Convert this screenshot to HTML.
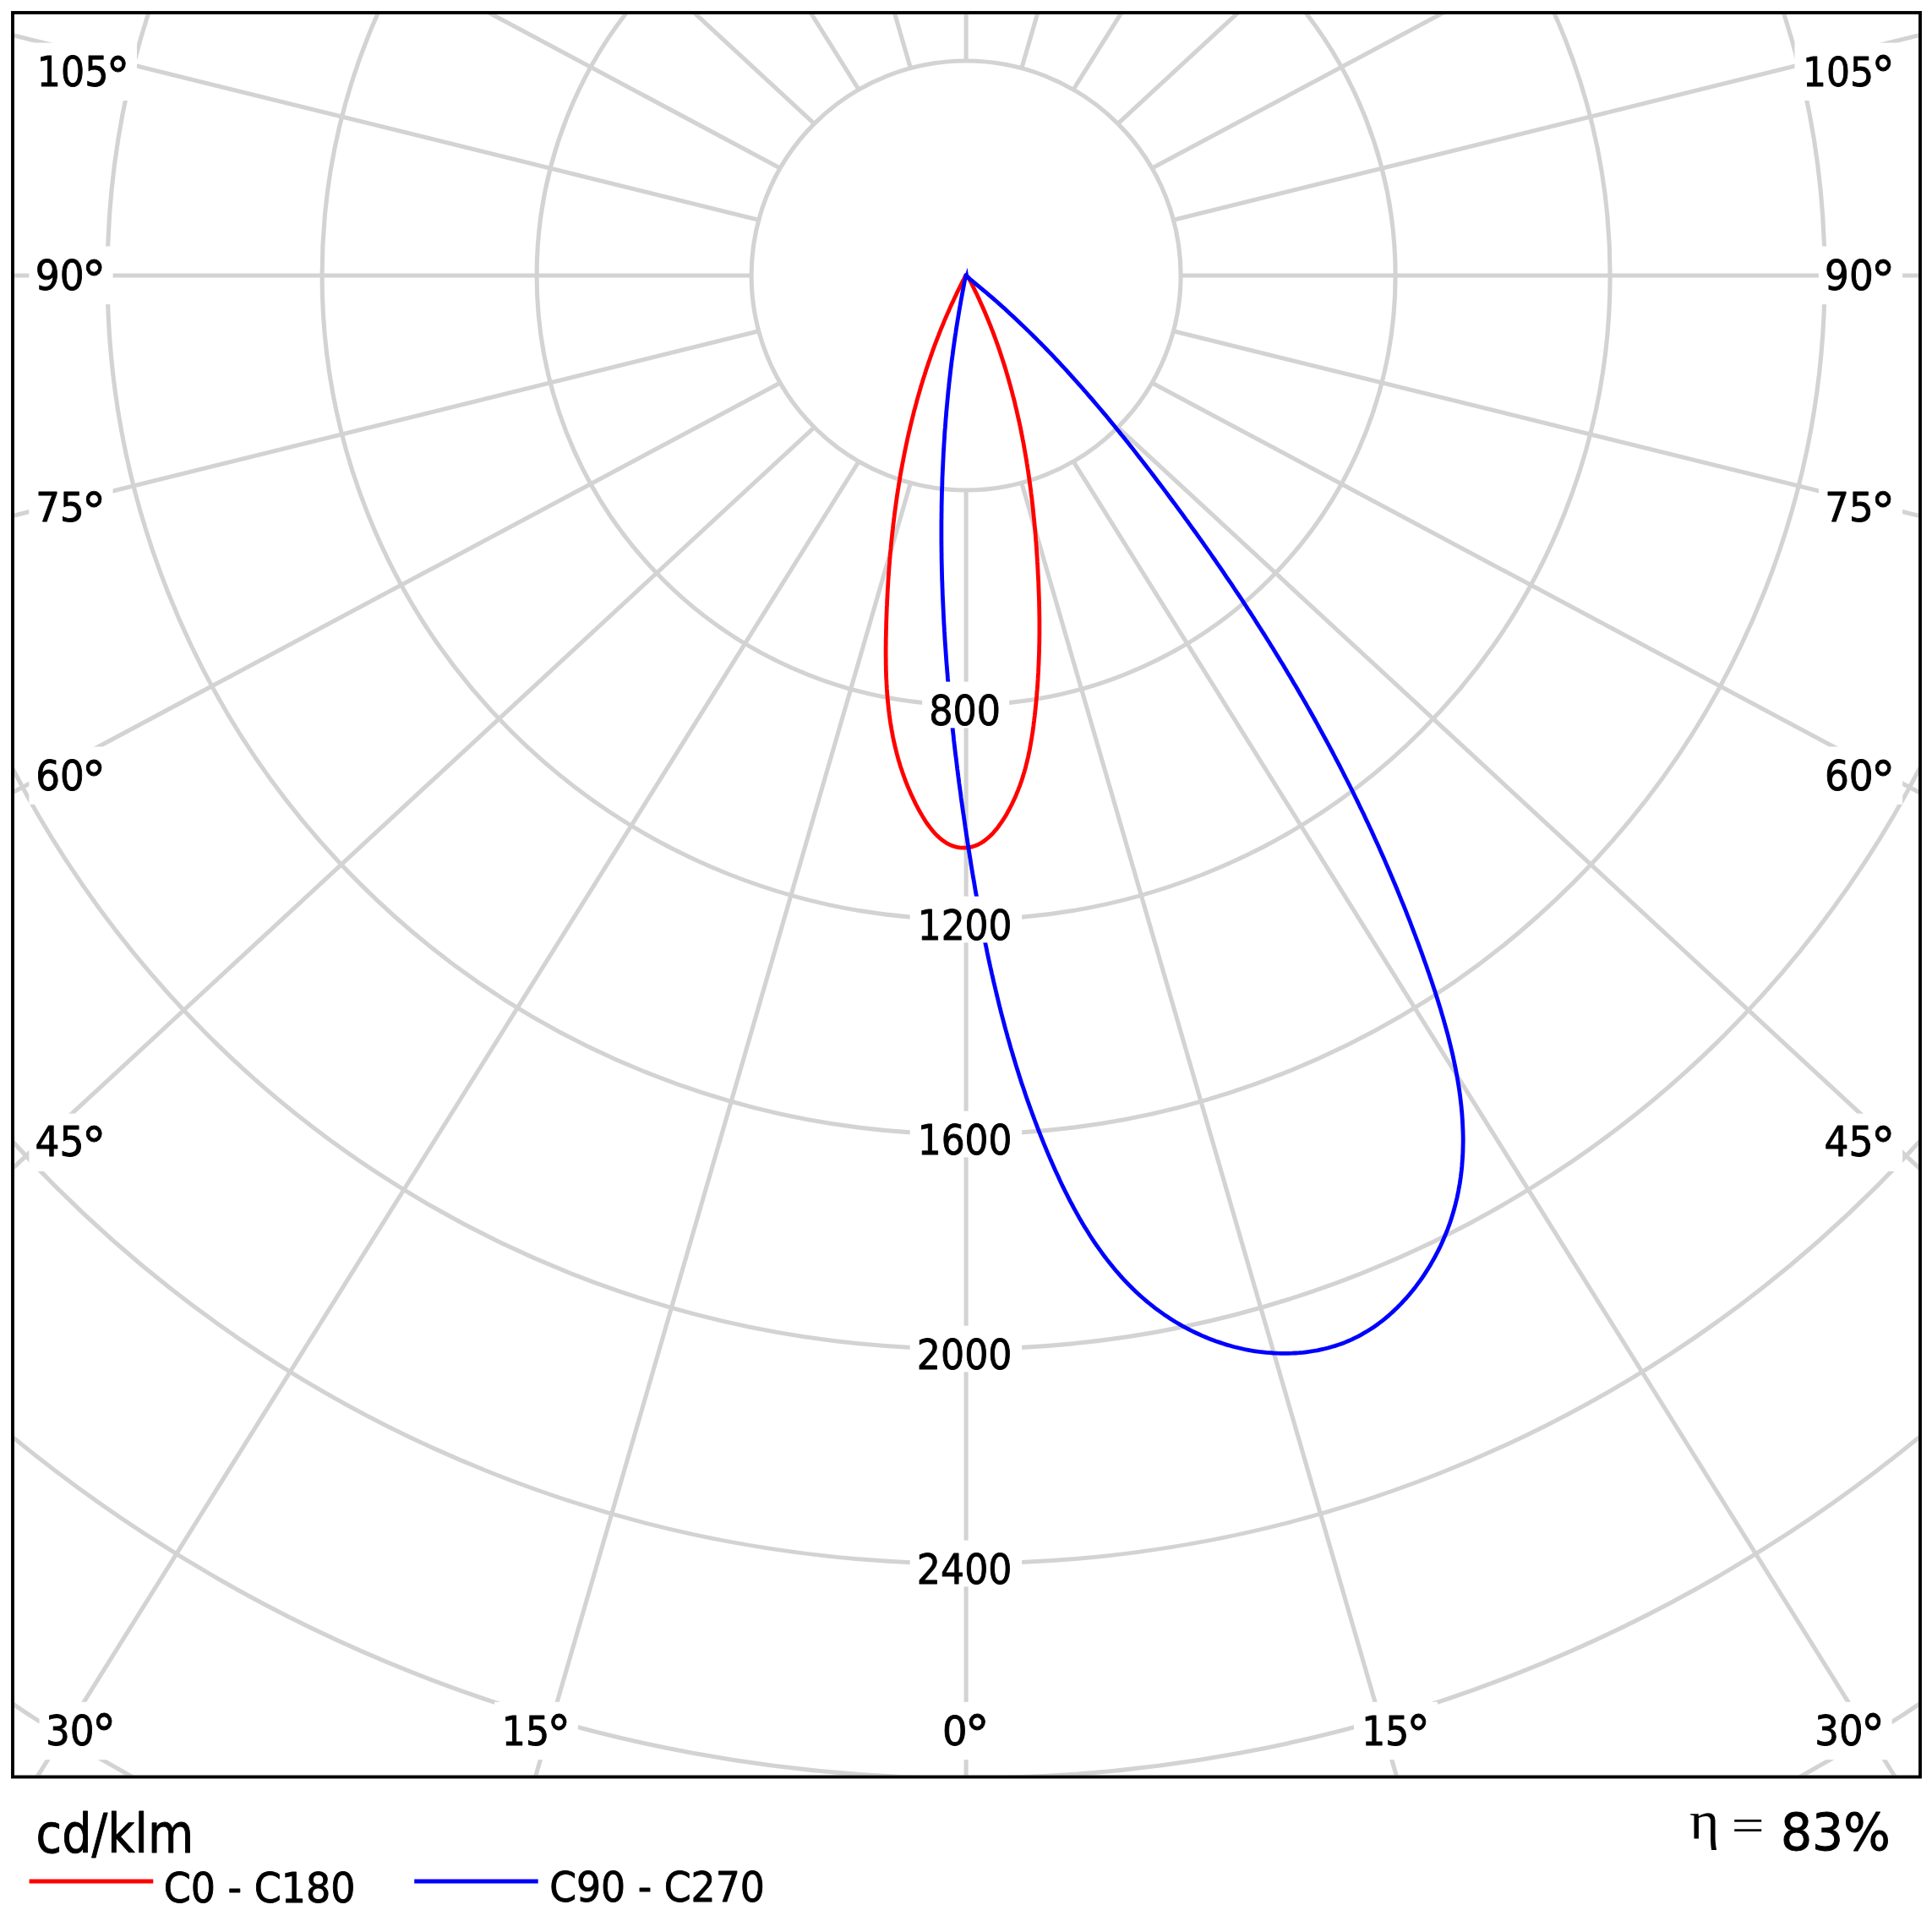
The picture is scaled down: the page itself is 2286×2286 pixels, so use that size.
<!DOCTYPE html>
<html><head><meta charset="utf-8"><title>Polar diagram</title>
<style>html,body{margin:0;padding:0;background:#fff}svg{display:block}</style></head>
<body>
<svg width="2286" height="2286" viewBox="0 0 2286 2286">
<defs><clipPath id="c"><rect x="17" y="17" width="2253" height="2083.5"/></clipPath></defs>
<rect width="100%" height="100%" fill="#fff"/>
<g clip-path="url(#c)" fill="none" stroke="#d3d3d3" stroke-width="5.1">
<circle cx="1143.1" cy="326.0" r="254.0"/>
<circle cx="1143.1" cy="326.0" r="508.0"/>
<circle cx="1143.1" cy="326.0" r="762.0"/>
<circle cx="1143.1" cy="326.0" r="1016.0"/>
<circle cx="1143.1" cy="326.0" r="1270.0"/>
<circle cx="1143.1" cy="326.0" r="1524.0"/>
<circle cx="1143.1" cy="326.0" r="1778.0"/>
<circle cx="1143.1" cy="326.0" r="2032.0"/>
<line x1="1143.1" y1="580.0" x2="1143.1" y2="2110.5"/>
<line x1="1208.8" y1="571.3" x2="1655.0" y2="2110.5"/>
<line x1="1270.1" y1="546.0" x2="2247.3" y2="2110.5"/>
<line x1="1322.7" y1="505.6" x2="2280.0" y2="1390.5"/>
<line x1="1363.1" y1="453.0" x2="2280.0" y2="942.4"/>
<line x1="1388.4" y1="391.7" x2="2280.0" y2="612.6"/>
<line x1="1397.1" y1="326.0" x2="2280.0" y2="326.0"/>
<line x1="1388.4" y1="260.3" x2="2280.0" y2="39.4"/>
<line x1="1363.1" y1="199.0" x2="1722.8" y2="7.0"/>
<line x1="1322.7" y1="146.4" x2="1473.5" y2="7.0"/>
<line x1="1270.1" y1="106.0" x2="1332.0" y2="7.0"/>
<line x1="1208.8" y1="80.7" x2="1230.2" y2="7.0"/>
<line x1="1143.1" y1="72.0" x2="1143.1" y2="7.0"/>
<line x1="1077.4" y1="80.7" x2="1056.0" y2="7.0"/>
<line x1="1016.1" y1="106.0" x2="954.2" y2="7.0"/>
<line x1="963.5" y1="146.4" x2="812.7" y2="7.0"/>
<line x1="923.1" y1="199.0" x2="563.4" y2="7.0"/>
<line x1="897.8" y1="260.3" x2="7.0" y2="39.6"/>
<line x1="889.1" y1="326.0" x2="7.0" y2="326.0"/>
<line x1="897.8" y1="391.7" x2="7.0" y2="612.4"/>
<line x1="923.1" y1="453.0" x2="7.0" y2="941.9"/>
<line x1="963.5" y1="505.6" x2="7.0" y2="1389.8"/>
<line x1="1016.1" y1="546.0" x2="38.9" y2="2110.5"/>
<line x1="1077.4" y1="571.3" x2="631.2" y2="2110.5"/>
</g>
<g fill="none" stroke-width="4.8" stroke-linejoin="round">
<path stroke="#ff0000" d="M1142.9,325.6 L1141.5,328.2 L1140.2,330.8 L1138.8,333.4 L1137.5,336.0 L1136.2,338.6 L1134.9,341.3 L1133.6,343.9 L1132.3,346.5 L1131.1,349.2 L1129.8,351.8 L1128.6,354.4 L1127.4,357.1 L1126.1,359.7 L1124.9,362.4 L1123.7,365.1 L1122.6,367.7 L1121.4,370.4 L1120.2,373.1 L1119.1,375.7 L1117.9,378.4 L1116.8,381.1 L1115.7,383.8 L1114.6,386.5 L1113.5,389.2 L1112.4,391.9 L1111.3,394.6 L1110.3,397.3 L1109.2,400.0 L1108.2,402.7 L1107.2,405.4 L1106.1,408.2 L1105.1,410.9 L1104.1,413.6 L1103.2,416.3 L1102.2,419.1 L1101.2,421.8 L1100.3,424.6 L1099.3,427.3 L1098.4,430.1 L1097.5,432.8 L1096.5,435.6 L1095.6,438.3 L1094.8,441.1 L1093.9,443.9 L1093.0,446.6 L1092.1,449.4 L1091.3,452.2 L1090.4,454.9 L1089.6,457.7 L1088.8,460.5 L1088.0,463.3 L1087.2,466.1 L1086.4,468.9 L1085.6,471.7 L1084.8,474.5 L1084.1,477.3 L1083.3,480.1 L1082.6,482.9 L1081.8,485.7 L1081.1,488.5 L1080.4,491.3 L1079.7,494.1 L1079.0,496.9 L1078.3,499.8 L1077.6,502.6 L1076.9,505.4 L1076.3,508.2 L1075.6,511.1 L1075.0,513.9 L1074.3,516.7 L1073.7,519.6 L1073.1,522.4 L1072.5,525.3 L1071.9,528.1 L1071.3,531.0 L1070.7,533.8 L1070.1,536.7 L1069.6,539.5 L1069.0,542.4 L1068.5,545.2 L1067.9,548.1 L1067.4,550.9 L1066.9,553.8 L1066.3,556.7 L1065.8,559.5 L1065.3,562.4 L1064.8,565.3 L1064.4,568.1 L1063.9,571.0 L1063.4,573.9 L1063.0,576.7 L1062.5,579.6 L1062.1,582.5 L1061.6,585.4 L1061.2,588.3 L1060.8,591.1 L1060.4,594.0 L1060.0,596.9 L1059.6,599.8 L1059.2,602.7 L1058.8,605.6 L1058.4,608.5 L1058.1,611.3 L1057.7,614.2 L1057.4,617.1 L1057.0,620.0 L1056.7,622.9 L1056.4,625.8 L1056.0,628.7 L1055.7,631.6 L1055.4,634.5 L1055.1,637.4 L1054.8,640.3 L1054.5,643.2 L1054.2,646.1 L1054.0,649.0 L1053.7,651.9 L1053.4,654.8 L1053.2,657.7 L1052.9,660.6 L1052.7,663.5 L1052.5,666.4 L1052.2,669.3 L1052.0,672.2 L1051.8,675.1 L1051.6,678.1 L1051.4,681.0 L1051.2,683.9 L1051.0,686.8 L1050.8,689.7 L1050.7,692.6 L1050.5,695.5 L1050.3,698.4 L1050.2,701.3 L1050.0,704.2 L1049.9,707.1 L1049.7,710.0 L1049.6,713.0 L1049.5,715.9 L1049.3,718.8 L1049.2,721.7 L1049.1,724.6 L1049.0,727.5 L1048.9,730.4 L1048.8,733.3 L1048.7,736.2 L1048.6,739.1 L1048.6,742.0 L1048.5,744.9 L1048.4,747.8 L1048.4,750.7 L1048.3,753.7 L1048.2,756.6 L1048.2,759.5 L1048.2,762.4 L1048.1,765.3 L1048.1,768.2 L1048.1,771.1 L1048.1,774.0 L1048.1,776.9 L1048.2,779.8 L1048.2,782.7 L1048.2,785.5 L1048.3,788.4 L1048.3,791.3 L1048.4,794.2 L1048.5,797.1 L1048.6,800.0 L1048.7,802.9 L1048.9,805.8 L1049.0,808.7 L1049.2,811.6 L1049.3,814.4 L1049.5,817.3 L1049.7,820.2 L1049.9,823.1 L1050.2,826.0 L1050.4,828.8 L1050.7,831.7 L1051.0,834.6 L1051.3,837.4 L1051.6,840.3 L1052.0,843.2 L1052.3,846.0 L1052.7,848.9 L1053.1,851.8 L1053.5,854.6 L1054.0,857.5 L1054.5,860.3 L1054.9,863.2 L1055.5,866.0 L1056.0,868.9 L1056.5,871.7 L1057.1,874.6 L1057.7,877.4 L1058.4,880.2 L1059.0,883.1 L1059.7,885.9 L1060.4,888.7 L1061.1,891.6 L1061.9,894.4 L1062.6,897.2 L1063.4,900.0 L1064.3,902.8 L1065.1,905.7 L1066.0,908.5 L1067.0,911.3 L1067.9,914.1 L1068.9,916.9 L1069.9,919.7 L1070.9,922.5 L1072.0,925.3 L1073.1,928.1 L1074.2,930.8 L1075.4,933.6 L1076.6,936.4 L1077.8,939.2 L1079.1,942.0 L1080.4,944.7 L1081.7,947.5 L1083.0,950.3 L1084.4,953.0 L1085.9,955.8 L1087.3,958.5 L1088.8,961.2 L1090.4,963.9 L1092.0,966.6 L1093.6,969.2 L1095.2,971.8 L1096.9,974.3 L1098.7,976.7 L1100.5,979.1 L1102.3,981.4 L1104.1,983.7 L1106.0,985.8 L1108.0,987.9 L1110.0,989.8 L1112.0,991.7 L1114.1,993.4 L1116.3,995.0 L1118.5,996.5 L1120.7,997.9 L1123.0,999.1 L1125.3,1000.2 L1127.7,1001.1 L1130.2,1001.8 L1132.6,1002.4 L1135.2,1002.9 L1137.8,1003.1 L1140.3,1003.2 L1143.0,1003.1 L1145.5,1002.9 L1148.1,1002.4 L1150.7,1001.8 L1153.2,1001.0 L1155.6,1000.1 L1158.0,999.0 L1160.4,997.7 L1162.7,996.3 L1164.9,994.7 L1167.1,993.0 L1169.3,991.2 L1171.4,989.3 L1173.5,987.3 L1175.5,985.1 L1177.4,982.9 L1179.4,980.6 L1181.2,978.2 L1183.0,975.7 L1184.8,973.2 L1186.5,970.6 L1188.2,968.0 L1189.8,965.4 L1191.4,962.7 L1192.9,959.9 L1194.4,957.2 L1195.8,954.5 L1197.2,951.7 L1198.5,949.0 L1199.8,946.2 L1201.1,943.5 L1202.3,940.7 L1203.4,937.9 L1204.6,935.1 L1205.6,932.3 L1206.7,929.6 L1207.7,926.8 L1208.7,924.0 L1209.6,921.2 L1210.5,918.3 L1211.3,915.5 L1212.2,912.7 L1213.0,909.9 L1213.7,907.1 L1214.4,904.2 L1215.2,901.4 L1215.8,898.6 L1216.5,895.7 L1217.1,892.9 L1217.7,890.0 L1218.3,887.2 L1218.8,884.3 L1219.3,881.5 L1219.8,878.6 L1220.3,875.7 L1220.8,872.9 L1221.2,870.0 L1221.7,867.2 L1222.1,864.3 L1222.5,861.4 L1222.9,858.5 L1223.2,855.7 L1223.6,852.8 L1223.9,849.9 L1224.3,847.1 L1224.6,844.2 L1224.9,841.3 L1225.2,838.4 L1225.5,835.6 L1225.8,832.7 L1226.1,829.8 L1226.3,826.9 L1226.6,824.0 L1226.8,821.2 L1227.0,818.3 L1227.3,815.4 L1227.5,812.5 L1227.7,809.6 L1227.9,806.7 L1228.1,803.9 L1228.2,801.0 L1228.4,798.1 L1228.6,795.2 L1228.7,792.3 L1228.8,789.4 L1229.0,786.5 L1229.1,783.7 L1229.2,780.8 L1229.3,777.9 L1229.4,775.0 L1229.5,772.1 L1229.6,769.2 L1229.6,766.3 L1229.7,763.4 L1229.8,760.5 L1229.8,757.6 L1229.8,754.7 L1229.9,751.8 L1229.9,748.9 L1229.9,746.0 L1229.9,743.1 L1229.9,740.2 L1229.9,737.3 L1229.9,734.4 L1229.9,731.5 L1229.8,728.6 L1229.8,725.7 L1229.7,722.8 L1229.7,719.9 L1229.6,717.0 L1229.6,714.1 L1229.5,711.2 L1229.4,708.3 L1229.3,705.4 L1229.2,702.5 L1229.1,699.6 L1229.0,696.7 L1228.9,693.8 L1228.8,690.9 L1228.7,688.0 L1228.5,685.1 L1228.4,682.2 L1228.2,679.3 L1228.1,676.4 L1227.9,673.5 L1227.8,670.6 L1227.6,667.6 L1227.4,664.7 L1227.3,661.8 L1227.1,658.9 L1226.9,656.0 L1226.7,653.1 L1226.5,650.2 L1226.3,647.3 L1226.1,644.4 L1225.9,641.4 L1225.6,638.5 L1225.4,635.6 L1225.2,632.7 L1224.9,629.8 L1224.7,626.9 L1224.4,624.0 L1224.1,621.1 L1223.9,618.2 L1223.6,615.3 L1223.3,612.4 L1223.0,609.4 L1222.7,606.5 L1222.4,603.6 L1222.1,600.7 L1221.8,597.8 L1221.4,594.9 L1221.1,592.0 L1220.8,589.1 L1220.4,586.2 L1220.0,583.3 L1219.7,580.4 L1219.3,577.5 L1218.9,574.6 L1218.5,571.7 L1218.1,568.8 L1217.7,565.9 L1217.3,563.1 L1216.9,560.2 L1216.5,557.3 L1216.0,554.4 L1215.6,551.5 L1215.1,548.6 L1214.7,545.8 L1214.2,542.9 L1213.7,540.0 L1213.2,537.1 L1212.7,534.2 L1212.2,531.4 L1211.7,528.5 L1211.2,525.6 L1210.7,522.8 L1210.1,519.9 L1209.6,517.1 L1209.0,514.2 L1208.4,511.3 L1207.9,508.5 L1207.3,505.6 L1206.7,502.8 L1206.1,499.9 L1205.5,497.1 L1204.8,494.3 L1204.2,491.4 L1203.5,488.6 L1202.9,485.7 L1202.2,482.9 L1201.5,480.1 L1200.9,477.3 L1200.2,474.4 L1199.5,471.6 L1198.7,468.8 L1198.0,466.0 L1197.3,463.2 L1196.5,460.4 L1195.8,457.6 L1195.0,454.8 L1194.2,452.0 L1193.4,449.2 L1192.6,446.4 L1191.8,443.6 L1191.0,440.9 L1190.2,438.1 L1189.3,435.3 L1188.5,432.5 L1187.6,429.8 L1186.7,427.0 L1185.8,424.2 L1184.9,421.5 L1184.0,418.7 L1183.1,416.0 L1182.2,413.3 L1181.2,410.5 L1180.3,407.8 L1179.3,405.1 L1178.3,402.3 L1177.3,399.6 L1176.3,396.9 L1175.3,394.2 L1174.3,391.5 L1173.2,388.8 L1172.2,386.1 L1171.1,383.4 L1170.0,380.7 L1168.9,378.0 L1167.8,375.3 L1166.7,372.7 L1165.6,370.0 L1164.4,367.3 L1163.3,364.7 L1162.1,362.0 L1160.9,359.4 L1159.7,356.7 L1158.5,354.1 L1157.3,351.5 L1156.1,348.8 L1154.8,346.2 L1153.5,343.6 L1152.3,341.0 L1151.0,338.4 L1149.7,335.8 L1148.4,333.2 L1147.0,330.6 L1145.7,328.0 Z"/>
<path stroke="#0000ff" d="M1142.8,325.6 L1142.0,329.8 L1141.1,334.1 L1140.3,338.3 L1139.5,342.6 L1138.7,346.8 L1137.9,351.1 L1137.1,355.4 L1136.4,359.6 L1135.6,363.9 L1134.9,368.1 L1134.2,372.4 L1133.5,376.7 L1132.8,380.9 L1132.1,385.2 L1131.4,389.5 L1130.8,393.8 L1130.1,398.0 L1129.5,402.3 L1128.9,406.6 L1128.3,410.9 L1127.7,415.1 L1127.2,419.4 L1126.6,423.7 L1126.0,428.0 L1125.5,432.3 L1125.0,436.5 L1124.5,440.8 L1124.0,445.1 L1123.5,449.4 L1123.0,453.7 L1122.6,458.0 L1122.1,462.2 L1121.7,466.5 L1121.3,470.8 L1120.9,475.1 L1120.5,479.4 L1120.1,483.7 L1119.7,488.0 L1119.4,492.3 L1119.0,496.6 L1118.7,500.9 L1118.4,505.2 L1118.0,509.5 L1117.7,513.8 L1117.5,518.1 L1117.2,522.4 L1116.9,526.7 L1116.7,531.0 L1116.4,535.3 L1116.2,539.6 L1116.0,543.9 L1115.8,548.2 L1115.6,552.5 L1115.4,556.8 L1115.2,561.1 L1115.0,565.4 L1114.9,569.7 L1114.8,574.0 L1114.6,578.3 L1114.5,582.6 L1114.4,586.9 L1114.3,591.2 L1114.2,595.5 L1114.1,599.8 L1114.1,604.1 L1114.0,608.4 L1114.0,612.7 L1113.9,617.1 L1113.9,621.4 L1113.9,625.7 L1113.9,630.0 L1113.9,634.3 L1113.9,638.6 L1113.9,642.9 L1114.0,647.2 L1114.0,651.5 L1114.1,655.8 L1114.1,660.2 L1114.2,664.5 L1114.3,668.8 L1114.4,673.1 L1114.5,677.4 L1114.6,681.7 L1114.7,686.0 L1114.9,690.3 L1115.0,694.6 L1115.2,699.0 L1115.3,703.3 L1115.5,707.6 L1115.7,711.9 L1115.9,716.2 L1116.1,720.5 L1116.3,724.8 L1116.5,729.1 L1116.7,733.4 L1116.9,737.7 L1117.2,742.1 L1117.4,746.4 L1117.7,750.7 L1117.9,755.0 L1118.2,759.3 L1118.5,763.6 L1118.8,767.9 L1119.1,772.2 L1119.4,776.5 L1119.7,780.8 L1120.0,785.1 L1120.4,789.4 L1120.7,793.8 L1121.1,798.1 L1121.4,802.4 L1121.8,806.7 L1122.2,811.0 L1122.5,815.3 L1122.9,819.6 L1123.3,823.9 L1123.7,828.2 L1124.1,832.5 L1124.6,836.8 L1125.0,841.1 L1125.4,845.4 L1125.9,849.7 L1126.3,854.0 L1126.8,858.3 L1127.2,862.6 L1127.7,866.9 L1128.2,871.2 L1128.6,875.5 L1129.1,879.8 L1129.6,884.1 L1130.1,888.4 L1130.6,892.6 L1131.2,896.9 L1131.7,901.2 L1132.2,905.5 L1132.7,909.8 L1133.3,914.1 L1133.8,918.4 L1134.4,922.7 L1134.9,927.0 L1135.5,931.2 L1136.1,935.5 L1136.7,939.8 L1137.2,944.1 L1137.8,948.4 L1138.4,952.7 L1139.0,956.9 L1139.6,961.2 L1140.3,965.5 L1140.9,969.8 L1141.5,974.0 L1142.1,978.3 L1142.8,982.6 L1143.4,986.9 L1144.1,991.1 L1144.7,995.4 L1145.4,999.7 L1146.0,1003.9 L1146.7,1008.2 L1147.4,1012.5 L1148.1,1016.7 L1148.7,1021.0 L1149.4,1025.3 L1150.1,1029.5 L1150.8,1033.8 L1151.5,1038.0 L1152.3,1042.3 L1153.0,1046.5 L1153.7,1050.8 L1154.4,1055.0 L1155.2,1059.3 L1155.9,1063.5 L1156.7,1067.8 L1157.5,1072.0 L1158.2,1076.3 L1159.0,1080.5 L1159.8,1084.7 L1160.6,1089.0 L1161.4,1093.2 L1162.2,1097.4 L1163.0,1101.7 L1163.9,1105.9 L1164.7,1110.1 L1165.5,1114.3 L1166.4,1118.5 L1167.3,1122.8 L1168.1,1127.0 L1169.0,1131.2 L1169.9,1135.4 L1170.8,1139.6 L1171.7,1143.8 L1172.7,1148.0 L1173.6,1152.2 L1174.6,1156.4 L1175.5,1160.6 L1176.5,1164.8 L1177.5,1169.0 L1178.5,1173.2 L1179.5,1177.4 L1180.5,1181.5 L1181.5,1185.7 L1182.5,1189.9 L1183.6,1194.1 L1184.6,1198.2 L1185.7,1202.4 L1186.8,1206.5 L1187.9,1210.7 L1189.0,1214.9 L1190.1,1219.0 L1191.3,1223.2 L1192.4,1227.3 L1193.6,1231.4 L1194.8,1235.6 L1195.9,1239.7 L1197.2,1243.9 L1198.4,1248.0 L1199.6,1252.1 L1200.9,1256.2 L1202.1,1260.3 L1203.4,1264.5 L1204.7,1268.6 L1206.0,1272.7 L1207.3,1276.8 L1208.6,1280.9 L1210.0,1285.0 L1211.4,1289.0 L1212.7,1293.1 L1214.1,1297.2 L1215.5,1301.3 L1217.0,1305.4 L1218.4,1309.4 L1219.9,1313.5 L1221.4,1317.6 L1222.9,1321.6 L1224.4,1325.7 L1225.9,1329.7 L1227.4,1333.7 L1229.0,1337.8 L1230.6,1341.8 L1232.2,1345.8 L1233.8,1349.9 L1235.4,1353.9 L1237.1,1357.9 L1238.7,1361.9 L1240.4,1365.9 L1242.1,1369.9 L1243.9,1373.9 L1245.6,1377.9 L1247.4,1381.9 L1249.2,1385.9 L1251.0,1389.8 L1252.8,1393.8 L1254.6,1397.7 L1256.5,1401.7 L1258.4,1405.6 L1260.3,1409.5 L1262.3,1413.4 L1264.3,1417.3 L1266.2,1421.1 L1268.3,1425.0 L1270.3,1428.8 L1272.4,1432.6 L1274.5,1436.4 L1276.6,1440.2 L1278.8,1443.9 L1281.0,1447.7 L1283.2,1451.4 L1285.5,1455.1 L1287.8,1458.7 L1290.1,1462.4 L1292.4,1466.0 L1294.8,1469.6 L1297.2,1473.1 L1299.7,1476.6 L1302.2,1480.1 L1304.7,1483.6 L1307.2,1487.0 L1309.8,1490.4 L1312.5,1493.8 L1315.1,1497.1 L1317.9,1500.5 L1320.6,1503.7 L1323.4,1506.9 L1326.2,1510.1 L1329.1,1513.3 L1332.0,1516.4 L1335.0,1519.5 L1338.0,1522.5 L1341.0,1525.5 L1344.1,1528.4 L1347.2,1531.4 L1350.4,1534.2 L1353.6,1537.0 L1356.9,1539.8 L1360.2,1542.5 L1363.5,1545.2 L1366.9,1547.8 L1370.4,1550.4 L1373.9,1552.9 L1377.4,1555.4 L1381.0,1557.8 L1384.6,1560.2 L1388.2,1562.5 L1391.9,1564.7 L1395.6,1566.9 L1399.4,1569.1 L1403.2,1571.1 L1407.0,1573.2 L1410.9,1575.1 L1414.8,1577.0 L1418.7,1578.8 L1422.7,1580.6 L1426.7,1582.3 L1430.7,1583.9 L1434.8,1585.5 L1438.8,1587.0 L1443.0,1588.4 L1447.1,1589.8 L1451.2,1591.1 L1455.4,1592.3 L1459.6,1593.5 L1463.9,1594.5 L1468.1,1595.5 L1472.4,1596.5 L1476.6,1597.3 L1480.9,1598.1 L1485.3,1598.8 L1489.6,1599.4 L1493.9,1599.9 L1498.2,1600.4 L1502.6,1600.7 L1506.9,1601.0 L1511.3,1601.2 L1515.6,1601.3 L1520.0,1601.4 L1524.3,1601.3 L1528.6,1601.2 L1532.9,1601.0 L1537.3,1600.7 L1541.6,1600.3 L1545.8,1599.8 L1550.1,1599.2 L1554.3,1598.5 L1558.6,1597.8 L1562.8,1596.9 L1566.9,1596.0 L1571.1,1595.0 L1575.2,1593.8 L1579.3,1592.6 L1583.3,1591.3 L1587.3,1589.9 L1591.3,1588.4 L1595.2,1586.8 L1599.1,1585.1 L1603.0,1583.2 L1606.8,1581.3 L1610.5,1579.3 L1614.2,1577.2 L1617.9,1575.0 L1621.5,1572.8 L1625.1,1570.4 L1628.6,1568.0 L1632.1,1565.4 L1635.5,1562.8 L1638.9,1560.1 L1642.2,1557.3 L1645.4,1554.5 L1648.6,1551.6 L1651.8,1548.6 L1654.9,1545.5 L1658.0,1542.4 L1660.9,1539.2 L1663.9,1536.0 L1666.8,1532.7 L1669.6,1529.3 L1672.3,1525.9 L1675.1,1522.4 L1677.7,1518.9 L1680.3,1515.4 L1682.8,1511.8 L1685.3,1508.1 L1687.7,1504.4 L1690.0,1500.7 L1692.3,1496.9 L1694.5,1493.1 L1696.7,1489.3 L1698.8,1485.4 L1700.8,1481.6 L1702.8,1477.6 L1704.7,1473.7 L1706.5,1469.7 L1708.2,1465.8 L1709.9,1461.8 L1711.5,1457.8 L1713.1,1453.8 L1714.6,1449.7 L1716.0,1445.7 L1717.3,1441.7 L1718.6,1437.6 L1719.8,1433.5 L1720.9,1429.5 L1722.0,1425.4 L1723.0,1421.3 L1724.0,1417.2 L1724.9,1413.1 L1725.7,1409.0 L1726.4,1404.9 L1727.2,1400.7 L1727.8,1396.6 L1728.4,1392.5 L1728.9,1388.3 L1729.4,1384.2 L1729.8,1380.0 L1730.1,1375.8 L1730.4,1371.7 L1730.7,1367.5 L1730.9,1363.3 L1731.0,1359.1 L1731.1,1354.9 L1731.2,1350.7 L1731.2,1346.5 L1731.1,1342.3 L1731.0,1338.1 L1730.8,1333.9 L1730.6,1329.7 L1730.4,1325.5 L1730.1,1321.2 L1729.8,1317.0 L1729.4,1312.8 L1729.0,1308.5 L1728.5,1304.3 L1728.0,1300.1 L1727.5,1295.8 L1726.9,1291.6 L1726.3,1287.4 L1725.6,1283.1 L1724.9,1278.9 L1724.2,1274.6 L1723.4,1270.4 L1722.6,1266.1 L1721.8,1261.9 L1720.9,1257.7 L1720.0,1253.4 L1719.1,1249.2 L1718.1,1244.9 L1717.1,1240.7 L1716.1,1236.5 L1715.0,1232.2 L1714.0,1228.0 L1712.9,1223.7 L1711.7,1219.5 L1710.6,1215.3 L1709.4,1211.1 L1708.2,1206.8 L1707.0,1202.6 L1705.7,1198.4 L1704.5,1194.2 L1703.2,1190.0 L1701.9,1185.7 L1700.6,1181.5 L1699.2,1177.3 L1697.9,1173.1 L1696.5,1169.0 L1695.1,1164.8 L1693.7,1160.6 L1692.3,1156.4 L1690.9,1152.2 L1689.4,1148.1 L1688.0,1143.9 L1686.5,1139.8 L1685.0,1135.6 L1683.6,1131.5 L1682.1,1127.4 L1680.6,1123.2 L1679.1,1119.1 L1677.6,1115.0 L1676.0,1110.9 L1674.5,1106.8 L1672.9,1102.7 L1671.4,1098.6 L1669.8,1094.5 L1668.3,1090.4 L1666.7,1086.4 L1665.1,1082.3 L1663.5,1078.2 L1661.9,1074.2 L1660.3,1070.2 L1658.6,1066.1 L1657.0,1062.1 L1655.4,1058.1 L1653.7,1054.0 L1652.1,1050.0 L1650.4,1046.0 L1648.7,1042.0 L1647.0,1038.0 L1645.3,1034.0 L1643.6,1030.0 L1641.9,1026.0 L1640.2,1022.1 L1638.5,1018.1 L1636.7,1014.1 L1635.0,1010.2 L1633.2,1006.2 L1631.5,1002.3 L1629.7,998.3 L1627.9,994.4 L1626.1,990.5 L1624.3,986.5 L1622.5,982.6 L1620.7,978.7 L1618.9,974.8 L1617.0,970.9 L1615.2,967.0 L1613.4,963.1 L1611.5,959.2 L1609.6,955.4 L1607.8,951.5 L1605.9,947.6 L1604.0,943.7 L1602.1,939.9 L1600.2,936.0 L1598.3,932.2 L1596.4,928.3 L1594.4,924.5 L1592.5,920.7 L1590.5,916.8 L1588.6,913.0 L1586.6,909.2 L1584.7,905.4 L1582.7,901.6 L1580.7,897.8 L1578.7,894.0 L1576.7,890.2 L1574.7,886.4 L1572.7,882.6 L1570.7,878.8 L1568.6,875.0 L1566.6,871.3 L1564.5,867.5 L1562.5,863.8 L1560.4,860.0 L1558.3,856.2 L1556.3,852.5 L1554.2,848.8 L1552.1,845.0 L1550.0,841.3 L1547.9,837.6 L1545.8,833.8 L1543.6,830.1 L1541.5,826.4 L1539.4,822.7 L1537.2,819.0 L1535.1,815.3 L1532.9,811.6 L1530.7,807.9 L1528.6,804.2 L1526.4,800.5 L1524.2,796.9 L1522.0,793.2 L1519.8,789.5 L1517.6,785.8 L1515.3,782.2 L1513.1,778.5 L1510.9,774.9 L1508.6,771.2 L1506.4,767.6 L1504.1,763.9 L1501.9,760.3 L1499.6,756.7 L1497.3,753.0 L1495.0,749.4 L1492.7,745.8 L1490.4,742.2 L1488.1,738.6 L1485.8,735.0 L1483.5,731.3 L1481.2,727.7 L1478.9,724.1 L1476.5,720.6 L1474.2,717.0 L1471.8,713.4 L1469.5,709.8 L1467.1,706.2 L1464.7,702.6 L1462.3,699.1 L1459.9,695.5 L1457.6,691.9 L1455.2,688.4 L1452.7,684.8 L1450.3,681.3 L1447.9,677.7 L1445.5,674.2 L1443.1,670.6 L1440.6,667.1 L1438.2,663.5 L1435.7,660.0 L1433.3,656.5 L1430.8,652.9 L1428.3,649.4 L1425.8,645.9 L1423.4,642.4 L1420.9,638.9 L1418.4,635.4 L1415.9,631.8 L1413.3,628.3 L1410.8,624.8 L1408.3,621.3 L1405.8,617.8 L1403.2,614.4 L1400.7,610.9 L1398.2,607.4 L1395.6,603.9 L1393.0,600.4 L1390.5,596.9 L1387.9,593.5 L1385.3,590.0 L1382.7,586.5 L1380.2,583.1 L1377.6,579.6 L1375.0,576.1 L1372.4,572.7 L1369.7,569.2 L1367.1,565.8 L1364.5,562.3 L1361.9,558.9 L1359.2,555.4 L1356.6,552.0 L1353.9,548.5 L1351.3,545.1 L1348.6,541.7 L1345.9,538.3 L1343.3,534.9 L1340.6,531.4 L1337.9,528.0 L1335.2,524.6 L1332.5,521.2 L1329.8,517.8 L1327.0,514.5 L1324.3,511.1 L1321.6,507.7 L1318.8,504.3 L1316.1,501.0 L1313.3,497.6 L1310.6,494.3 L1307.8,490.9 L1305.0,487.6 L1302.2,484.3 L1299.4,481.0 L1296.6,477.7 L1293.8,474.4 L1291.0,471.1 L1288.1,467.8 L1285.3,464.5 L1282.4,461.3 L1279.6,458.0 L1276.7,454.8 L1273.8,451.5 L1270.9,448.3 L1268.0,445.1 L1265.1,441.9 L1262.2,438.7 L1259.3,435.5 L1256.3,432.3 L1253.4,429.2 L1250.4,426.0 L1247.5,422.9 L1244.5,419.7 L1241.5,416.6 L1238.5,413.5 L1235.5,410.4 L1232.5,407.3 L1229.4,404.3 L1226.4,401.2 L1223.4,398.2 L1220.3,395.1 L1217.2,392.1 L1214.1,389.1 L1211.0,386.1 L1207.9,383.2 L1204.8,380.2 L1201.7,377.3 L1198.5,374.3 L1195.4,371.4 L1192.2,368.5 L1189.1,365.6 L1185.9,362.7 L1182.7,359.9 L1179.5,357.0 L1176.2,354.2 L1173.0,351.4 L1169.7,348.6 L1166.5,345.8 L1163.2,343.1 L1159.9,340.3 L1156.6,337.6 L1153.3,334.9 L1150.0,332.2 L1146.6,329.5 Z"/>
</g>
<path fill="#0000ff" d="M1141.6,326.5 L1144.6,316.8 L1146.0,326.5 Z"/>
<g fill="#fff">
<rect x="34.4" y="50.6" width="127.6" height="68.4"/>
<rect x="2123.5" y="50.6" width="127.6" height="68.4"/>
<rect x="34.4" y="291.4" width="99.2" height="68.7"/>
<rect x="2151.9" y="291.4" width="99.2" height="68.7"/>
<rect x="34.4" y="566.0" width="99.2" height="68.5"/>
<rect x="2151.9" y="566.0" width="99.2" height="68.5"/>
<rect x="34.4" y="883.5" width="99.2" height="68.3"/>
<rect x="2151.9" y="883.5" width="99.2" height="68.3"/>
<rect x="34.4" y="1317.6" width="99.2" height="68.3"/>
<rect x="2151.9" y="1317.6" width="99.2" height="68.3"/>
<rect x="46.5" y="2013.8" width="99.0" height="68.4"/>
<rect x="585.0" y="2013.8" width="98.9" height="68.4"/>
<rect x="1107.8" y="2013.8" width="70.4" height="68.4"/>
<rect x="1602.0" y="2013.8" width="99.0" height="68.4"/>
<rect x="2139.7" y="2013.8" width="99.0" height="68.4"/>
<rect x="1091.2" y="806.6" width="103.0" height="54.8"/>
<rect x="1076.7" y="1060.6" width="132.4" height="54.8"/>
<rect x="1076.7" y="1314.6" width="132.4" height="54.8"/>
<rect x="1076.7" y="1568.6" width="132.4" height="54.8"/>
<rect x="1076.7" y="1822.6" width="132.4" height="54.8"/>
</g>
<rect x="15" y="15" width="2257" height="2087.5" fill="none" stroke="#000" stroke-width="3.9"/>
<line x1="34.6" y1="2226.1" x2="181.3" y2="2226.1" stroke="#ff0000" stroke-width="5"/>
<line x1="490.2" y1="2226.1" x2="636.7" y2="2226.1" stroke="#0000ff" stroke-width="5"/>
<g fill="#000" stroke="#000" stroke-width="0.9" stroke-linejoin="round">
<text font-family="&apos;DejaVu Sans Condensed&apos;,&apos;DejaVu Sans&apos;,sans-serif" font-stretch="condensed" font-size="52" transform="translate(43.86,101.95) scale(0.9472,0.9463)">105<tspan font-size="66" dy="10.2" dx="-3">°</tspan></text>
<text font-family="&apos;DejaVu Sans Condensed&apos;,&apos;DejaVu Sans&apos;,sans-serif" font-stretch="condensed" font-size="52" transform="translate(41.78,343.05) scale(0.9718,0.9488)">90<tspan font-size="66" dy="10.2" dx="-3">°</tspan></text>
<text font-family="&apos;DejaVu Sans Condensed&apos;,&apos;DejaVu Sans&apos;,sans-serif" font-stretch="condensed" font-size="52" transform="translate(42.30,616.87) scale(0.9654,0.9293)">75<tspan font-size="66" dy="10.2" dx="-3">°</tspan></text>
<text font-family="&apos;DejaVu Sans Condensed&apos;,&apos;DejaVu Sans&apos;,sans-serif" font-stretch="condensed" font-size="52" transform="translate(42.30,935.15) scale(0.9654,0.9512)">60<tspan font-size="66" dy="10.2" dx="-3">°</tspan></text>
<text font-family="&apos;DejaVu Sans Condensed&apos;,&apos;DejaVu Sans&apos;,sans-serif" font-stretch="condensed" font-size="52" transform="translate(41.55,1368.05) scale(0.9747,0.9512)">45<tspan font-size="66" dy="10.2" dx="-3">°</tspan></text>
<text font-family="&apos;DejaVu Sans Condensed&apos;,&apos;DejaVu Sans&apos;,sans-serif" font-stretch="condensed" font-size="52" transform="translate(2132.99,101.76) scale(0.9415,0.9390)">105<tspan font-size="66" dy="10.2" dx="-3">°</tspan></text>
<text font-family="&apos;DejaVu Sans Condensed&apos;,&apos;DejaVu Sans&apos;,sans-serif" font-stretch="condensed" font-size="52" transform="translate(2159.10,343.05) scale(0.9679,0.9488)">90<tspan font-size="66" dy="10.2" dx="-3">°</tspan></text>
<text font-family="&apos;DejaVu Sans Condensed&apos;,&apos;DejaVu Sans&apos;,sans-serif" font-stretch="condensed" font-size="52" transform="translate(2159.30,616.87) scale(0.9654,0.9293)">75<tspan font-size="66" dy="10.2" dx="-3">°</tspan></text>
<text font-family="&apos;DejaVu Sans Condensed&apos;,&apos;DejaVu Sans&apos;,sans-serif" font-stretch="condensed" font-size="52" transform="translate(2158.89,935.15) scale(0.9705,0.9512)">60<tspan font-size="66" dy="10.2" dx="-3">°</tspan></text>
<text font-family="&apos;DejaVu Sans Condensed&apos;,&apos;DejaVu Sans&apos;,sans-serif" font-stretch="condensed" font-size="52" transform="translate(2158.55,1368.05) scale(0.9747,0.9512)">45<tspan font-size="66" dy="10.2" dx="-3">°</tspan></text>
<text font-family="&apos;DejaVu Sans Condensed&apos;,&apos;DejaVu Sans&apos;,sans-serif" font-stretch="condensed" font-size="52" transform="translate(54.00,2065.14) scale(0.9679,0.9585)">30<tspan font-size="66" dy="10.2" dx="-3">°</tspan></text>
<text font-family="&apos;DejaVu Sans Condensed&apos;,&apos;DejaVu Sans&apos;,sans-serif" font-stretch="condensed" font-size="52" transform="translate(593.77,2064.67) scale(0.9461,0.9341)">15<tspan font-size="66" dy="10.2" dx="-3">°</tspan></text>
<text font-family="&apos;DejaVu Sans Condensed&apos;,&apos;DejaVu Sans&apos;,sans-serif" font-stretch="condensed" font-size="52" transform="translate(1115.02,2064.67) scale(0.9938,0.9341)">0<tspan font-size="66" dy="10.2" dx="-3">°</tspan></text>
<text font-family="&apos;DejaVu Sans Condensed&apos;,&apos;DejaVu Sans&apos;,sans-serif" font-stretch="condensed" font-size="52" transform="translate(1611.20,2064.67) scale(0.9395,0.9341)">15<tspan font-size="66" dy="10.2" dx="-3">°</tspan></text>
<text font-family="&apos;DejaVu Sans Condensed&apos;,&apos;DejaVu Sans&apos;,sans-serif" font-stretch="condensed" font-size="52" transform="translate(2147.31,2065.14) scale(0.9628,0.9585)">30<tspan font-size="66" dy="10.2" dx="-3">°</tspan></text>
<text font-family="&apos;DejaVu Sans Condensed&apos;,&apos;DejaVu Sans&apos;,sans-serif" font-stretch="condensed" font-size="52" transform="translate(1099.25,857.83) scale(0.9500,0.9700)">800</text>
<text font-family="&apos;DejaVu Sans Condensed&apos;,&apos;DejaVu Sans&apos;,sans-serif" font-stretch="condensed" font-size="52" transform="translate(1085.71,1111.73) scale(0.9387,0.9675)">1200</text>
<text font-family="&apos;DejaVu Sans Condensed&apos;,&apos;DejaVu Sans&apos;,sans-serif" font-stretch="condensed" font-size="52" transform="translate(1085.71,1365.63) scale(0.9387,0.9700)">1600</text>
<text font-family="&apos;DejaVu Sans Condensed&apos;,&apos;DejaVu Sans&apos;,sans-serif" font-stretch="condensed" font-size="52" transform="translate(1084.86,1619.73) scale(0.9460,0.9675)">2000</text>
<text font-family="&apos;DejaVu Sans Condensed&apos;,&apos;DejaVu Sans&apos;,sans-serif" font-stretch="condensed" font-size="52" transform="translate(1084.86,1873.83) scale(0.9460,0.9675)">2400</text>
<text font-family="&apos;DejaVu Sans Condensed&apos;,&apos;DejaVu Sans&apos;,sans-serif" font-stretch="condensed" font-size="64" transform="translate(42.60,2191.53) scale(0.9667,1.0109)">cd/klm</text>
<text font-family="&apos;DejaVu Sans Condensed&apos;,&apos;DejaVu Sans&apos;,sans-serif" font-stretch="condensed" font-size="52" transform="translate(193.64,2251.04) scale(0.9823,0.9575)">C0 - C180</text>
<text font-family="&apos;DejaVu Sans Condensed&apos;,&apos;DejaVu Sans&apos;,sans-serif" font-stretch="condensed" font-size="52" transform="translate(650.15,2250.45) scale(0.9766,0.9525)">C90 - C270</text>
<text font-family="&apos;Liberation Serif&apos;,serif" font-size="60" stroke-width="0" transform="translate(1998.97,2175.19) scale(1.1296,1.0625)">η</text>
<text font-family="&apos;Liberation Serif&apos;,serif" font-size="60" stroke-width="0" transform="translate(2048.86,2178.82) scale(1.1464,0.9600)">=</text>
<text font-family="&apos;DejaVu Sans Condensed&apos;,&apos;DejaVu Sans&apos;,sans-serif" font-stretch="condensed" font-size="64" transform="translate(2106.96,2188.85) scale(1.0131,0.9490)">83%</text>
</g>
</svg>
</body></html>
